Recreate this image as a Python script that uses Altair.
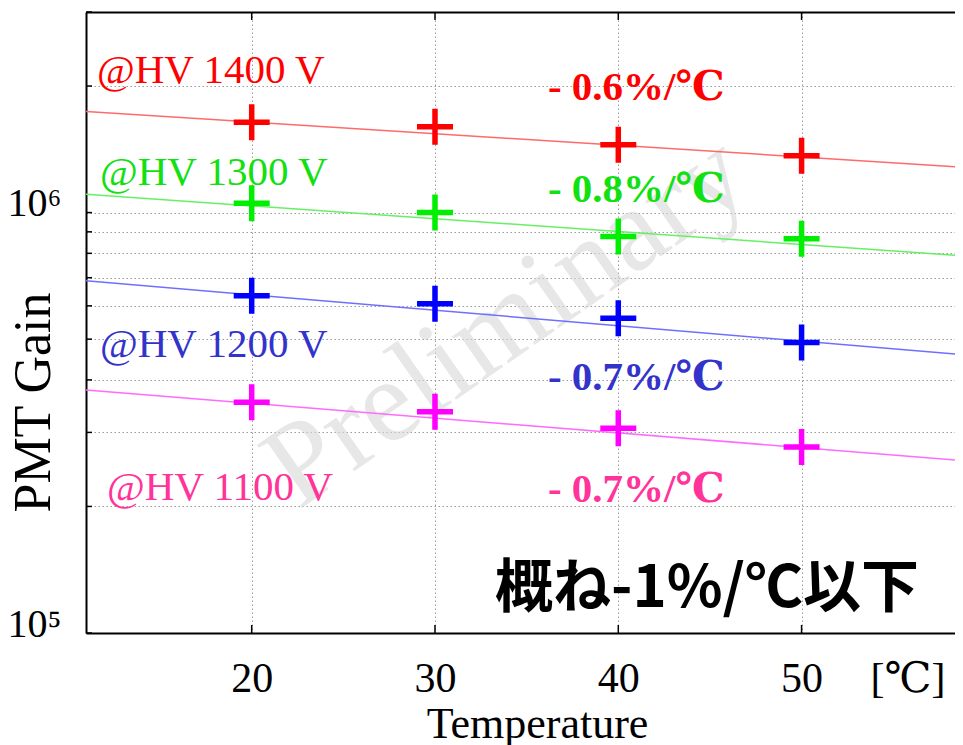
import altair as alt
import pandas as pd

# ---------------- data ----------------
temps = [20, 30, 40, 50]
series = ["1400 V", "1300 V", "1200 V", "1100 V"]
gain_1400 = [1.64e6, 1.60e6, 1.45e6, 1.365e6]
gain_1300 = [1.053e6, 1.0e6, 8.77e5, 8.66e5]
gain_1200 = [6.34e5, 6.07e5, 5.61e5, 4.91e5]
gain_1100 = [3.54e5, 3.36e5, 3.07e5, 2.77e5]

# fitted lines (value at left and right edge of the frame)
fit_x = [10.96, 58.8]
fit_1400 = [1.739e6, 1.282e6]
fit_1300 = [1.106e6, 7.89e5]
fit_1200 = [6.88e5, 4.59e5]
fit_1100 = [3.785e5, 2.57e5]

hv_labels = ["@HV 1400 V", "@HV 1300 V", "@HV 1200 V", "@HV 1100 V"]
slope_labels = ["- 0.6%/℃", "- 0.8%/℃", "- 0.7%/℃", "- 0.7%/℃"]
note_text = ["概ね-1%/℃以下"]
watermark_text = ["Preliminary"]
unit_text = ["[℃]"]

x_ticks = [20, 30, 40, 50]
y_ticks = [1e5, 2e5, 3e5, 4e5, 5e5, 6e5, 7e5, 8e5, 9e5, 1e6, 2e6, 3e6]

# ---------------- annotation anchors (data coordinates) ----------------
hv_x = [11.56, 11.72, 11.72, 12.11]
hv_y = [2.035e6, 1.164e6, 4.54e5, 2.07e5]
slope_x = [36.16, 36.16, 36.16, 36.16]
slope_y = [1.854e6, 1.06e6, 3.79e5, 2.05e5]
note_x, note_y = [44.84], [1.153e5]
wm_x, wm_y = [33.9], [5.5e5]
unit_x, unit_y = [55.8], [7.25e4]

# ---------------- styles ----------------
point_colors = ["#ff0000", "#00ee00", "#0000ff", "#ff00ff"]
line_colors = ["#ff6a6a", "#66f066", "#6f6fff", "#ff6aff"]
text_colors = ["#ff0000", "#11e011", "#3333cc", "#ff3399"]

SERIF = "Liberation Serif, DejaVu Serif, Noto Sans CJK JP"

# ---------------- tables ----------------
gains = [gain_1400, gain_1300, gain_1200, gain_1100]
fits = [fit_1400, fit_1300, fit_1200, fit_1100]
pts = pd.DataFrame([
    {"series": s, "t": t, "gain": g}
    for s, gl in zip(series, gains) for t, g in zip(temps, gl)
])
lines = pd.DataFrame([
    {"series": s, "t": t, "gain": g}
    for s, fl in zip(series, fits) for t, g in zip(fit_x, fl)
])
hv_df = pd.DataFrame({"t": hv_x, "gain": hv_y, "label": hv_labels, "tc": text_colors})
slope_df = pd.DataFrame({"t": slope_x, "gain": slope_y, "label": slope_labels, "tc": text_colors})
note_df = pd.DataFrame({"t": note_x, "gain": note_y, "label": note_text})
wm_df = pd.DataFrame({"t": wm_x, "gain": wm_y, "label": watermark_text})
unit_df = pd.DataFrame({"t": unit_x, "gain": unit_y, "label": unit_text})
xt_df = pd.DataFrame({"t": x_ticks})
yt_df = pd.DataFrame({"gain": y_ticks})

xs = alt.Scale(domain=[10.96, 58.37], nice=False, zero=False)
ys = alt.Scale(type="log", domain=[1e5, 3e6], nice=False)

GRID = dict(grid=True, gridDash=[1.5, 2.5], gridColor="#9a9a9a", gridWidth=1)

x_axis = alt.Axis(
    values=x_ticks, title="Temperature", ticks=False, labelFlush=False,
    labelFont=SERIF, labelFontSize=42, labelColor="black", labelPadding=58,
    labelBaseline="alphabetic", labelOverlap=False,
    domainColor="black", domainWidth=2,
    titleFont=SERIF, titleFontSize=44, titleFontWeight="normal", titleColor="black",
    titleX=451, titleY=104, titleBaseline="alphabetic", titleAlign="center",
    **GRID,
)
y_axis = alt.Axis(
    values=y_ticks, title="PMT Gain", ticks=False,
    labelExpr="abs(log(datum.value)/LN10 - 6) < 0.001 ? '10⁶' : (abs(log(datum.value)/LN10 - 5) < 0.001 ? '10⁵' : '')",
    labelFont=SERIF, labelFontSize=40, labelColor="black", labelPadding=25,
    labelBaseline="alphabetic", labelOffset=3, labelOverlap=False, labelFlush=False,
    domainColor="black", domainWidth=2,
    titleFont=SERIF, titleFontSize=52, titleFontWeight="normal", titleColor="black",
    titleX=-37, titleY=390, titleBaseline="alphabetic", titleAlign="center",
    **GRID,
)
top_axis = alt.Axis(orient="top", labels=False, ticks=False, grid=False, title=None,
                    domainColor="black", domainWidth=2)

def X(axis=None):
    return alt.X("t:Q", scale=xs, axis=axis)

def Y(axis=None):
    return alt.Y("gain:Q", scale=ys, axis=axis)

watermark = alt.Chart(wm_df).mark_text(
    font=SERIF, fontSize=118, color="#d8d8d8", opacity=0.6, angle=325,
    align="center", baseline="middle"
).encode(x=X(), y=Y(), text="label:N")

fit_lines = alt.Chart(lines).mark_line(strokeWidth=1.5, clip=True).encode(
    x=X(top_axis), y=Y(),
    color=alt.Color("series:N", scale=alt.Scale(domain=series, range=line_colors), legend=None),
)

cross = "M-1,0H1M0,-1V1"
points = alt.Chart(pts).mark_point(
    shape=cross, filled=False, size=1296, strokeWidth=5.5, opacity=1
).encode(
    x=X(x_axis), y=Y(y_axis),
    color=alt.Color("series:N", scale=alt.Scale(domain=series, range=point_colors), legend=None),
)

hv_text = alt.Chart(hv_df).mark_text(
    font=SERIF, fontSize=41, align="left", baseline="alphabetic"
).encode(x=X(), y=Y(), text="label:N", color=alt.Color("tc:N", scale=None))

slope_text = alt.Chart(slope_df).mark_text(
    font=SERIF, fontSize=41, fontWeight="bold", align="left", baseline="alphabetic"
).encode(x=X(), y=Y(), text="label:N", color=alt.Color("tc:N", scale=None))

note = alt.Chart(note_df).mark_text(
    font="Noto Sans CJK JP", fontSize=58, fontWeight="bold", color="black",
    align="center", baseline="alphabetic"
).encode(x=X(), y=Y(), text="label:N")

unit = alt.Chart(unit_df).mark_text(
    font=SERIF, fontSize=42, color="black", align="center", baseline="alphabetic"
).encode(x=X(), y=Y(), text="label:N")

# inward tick marks on the frame
xt_bottom = alt.Chart(xt_df).mark_rule(color="black", strokeWidth=1.5).encode(
    x=X(), y=alt.value(621), y2=alt.value(613))
xt_top = alt.Chart(xt_df).mark_rule(color="black", strokeWidth=1.5).encode(
    x=X(), y=alt.value(0), y2=alt.value(8))
yt_left = alt.Chart(yt_df).mark_rule(color="black", strokeWidth=1.5).encode(
    y=Y(), x=alt.value(0), x2=alt.value(6))

chart = alt.layer(
    watermark, fit_lines, points, hv_text, slope_text, note, unit,
    xt_bottom, xt_top, yt_left,
).resolve_scale(color="independent").resolve_axis(x="independent", y="independent").properties(
    width=869, height=621,
    padding={"left": 78, "top": 4, "right": 0, "bottom": 112},
    autosize=alt.AutoSizeParams(type="none"),
    background="white",
).configure_view(stroke=None)

chart.save("out.html", embed_options={"renderer": "svg", "actions": False})
